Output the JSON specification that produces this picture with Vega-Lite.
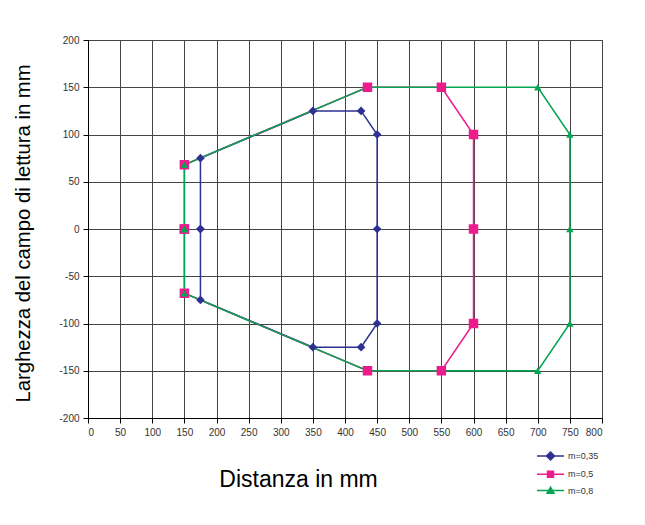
{
  "$schema": "https://vega.github.io/schema/vega-lite/v6.json",
  "width": 514,
  "height": 378,
  "autosize": {"type": "none"},
  "padding": {"left": 88, "top": 40, "right": 43, "bottom": 107},
  "background": "white",
  "config": {
    "font": "Liberation Sans",
    "view": {"stroke": "#444", "strokeWidth": 1},
    "axis": {
      "labelOverlap": false, "labelExpr": "'' + datum.value",
      "grid": true, "gridColor": "#444", "gridOpacity": 1,
      "domainColor": "#000", "tickColor": "#000", "tickSize": 5,
      "labelFontSize": 10, "labelColor": "#333", "labelPadding": 4,
      "titleFontWeight": "normal", "titleColor": "#000",
      "titleAlign": "center", "titleBaseline": "middle"
    },
    "axisX": {"titleFontSize": 23, "titleX": 210, "titleY": 61},
    "axisY": {"titleFontSize": 20.3, "titleX": -65, "titleY": 193, "titleAngle": -90}
  },
  "data": {
    "values": [
      {"s": "m=0,35", "i": 0, "x": 175, "y": 0},
      {"s": "m=0,35", "i": 1, "x": 175, "y": 75},
      {"s": "m=0,35", "i": 2, "x": 350, "y": 125},
      {"s": "m=0,35", "i": 3, "x": 425, "y": 125},
      {"s": "m=0,35", "i": 4, "x": 450, "y": 100},
      {"s": "m=0,35", "i": 5, "x": 450, "y": 0},
      {"s": "m=0,35", "i": 6, "x": 450, "y": -100},
      {"s": "m=0,35", "i": 7, "x": 425, "y": -125},
      {"s": "m=0,35", "i": 8, "x": 350, "y": -125},
      {"s": "m=0,35", "i": 9, "x": 175, "y": -75},
      {"s": "m=0,35", "i": 10, "x": 175, "y": 0},
      {"s": "m=0,5", "i": 0, "x": 150, "y": 0},
      {"s": "m=0,5", "i": 1, "x": 150, "y": 68},
      {"s": "m=0,5", "i": 2, "x": 435, "y": 150},
      {"s": "m=0,5", "i": 3, "x": 550, "y": 150},
      {"s": "m=0,5", "i": 4, "x": 600, "y": 100},
      {"s": "m=0,5", "i": 5, "x": 600, "y": 0},
      {"s": "m=0,5", "i": 6, "x": 600, "y": -100},
      {"s": "m=0,5", "i": 7, "x": 550, "y": -150},
      {"s": "m=0,5", "i": 8, "x": 435, "y": -150},
      {"s": "m=0,5", "i": 9, "x": 150, "y": -68},
      {"s": "m=0,5", "i": 10, "x": 150, "y": 0},
      {"s": "m=0,8", "i": 0, "x": 150, "y": 0},
      {"s": "m=0,8", "i": 1, "x": 150, "y": 68},
      {"s": "m=0,8", "i": 2, "x": 435, "y": 150},
      {"s": "m=0,8", "i": 3, "x": 700, "y": 150},
      {"s": "m=0,8", "i": 4, "x": 750, "y": 100},
      {"s": "m=0,8", "i": 5, "x": 750, "y": 0},
      {"s": "m=0,8", "i": 6, "x": 750, "y": -100},
      {"s": "m=0,8", "i": 7, "x": 700, "y": -150},
      {"s": "m=0,8", "i": 8, "x": 435, "y": -150},
      {"s": "m=0,8", "i": 9, "x": 150, "y": -68},
      {"s": "m=0,8", "i": 10, "x": 150, "y": 0}
    ]
  },
  "layer": [
    {
      "mark": {"type": "line", "strokeWidth": 1.5, "clip": false},
      "encoding": {
        "x": {
          "field": "x", "type": "quantitative",
          "scale": {"domain": [0, 800], "nice": false, "zero": false},
          "axis": {"values": [0, 50, 100, 150, 200, 250, 300, 350, 400, 450, 500, 550, 600, 650, 700, 750, 800], "title": "Distanza in mm"}
        },
        "y": {
          "field": "y", "type": "quantitative",
          "scale": {"domain": [-200, 200], "nice": false, "zero": false},
          "axis": {"values": [-200, -150, -100, -50, 0, 50, 100, 150, 200], "title": "Larghezza del campo di lettura in mm"}
        },
        "color": {
          "field": "s", "type": "nominal",
          "scale": {"domain": ["m=0,35", "m=0,5", "m=0,8"], "range": ["#2E3192", "#EC1C8C", "#00A651"]},
          "legend": {
            "title": null, "orient": "none", "legendX": 452.5, "legendY": 406,
            "symbolSize": 324, "symbolStrokeWidth": 1.5,
            "labelFontSize": 9, "labelColor": "#333", "labelOffset": 7.5,
            "rowPadding": 0.3, "padding": 0,
            "encode": {
              "symbols": {
                "update": {
                  "shape": {"signal": "datum.value === 'm=0,35' ? 'M-1.5,0H1.5M0,-0.45L0.45,0L0,0.45L-0.45,0Z' : datum.value === 'm=0,5' ? 'M-1.5,0H1.5M-0.33,-0.33H0.33V0.33H-0.33Z' : 'M-1.5,0H1.5M0,-0.38L0.38,0.3H-0.38Z'"},
                  "size": {"value": 324},
                  "fill": {"signal": "scale('color', datum.value)"},
                  "stroke": {"signal": "scale('color', datum.value)"},
                  "opacity": {"value": 1},
                  "fillOpacity": {"value": 1}
                }
              }
            }
          }
        },
        "order": {"field": "i", "type": "quantitative"}
      }
    },
    {
      "transform": [{"filter": "datum.s == 'm=0,35'"}],
      "mark": {"type": "point", "filled": true, "opacity": 1, "clip": false, "shape": "diamond", "size": 75},
      "encoding": {
        "x": {"field": "x", "type": "quantitative", "axis": {"values": [0, 50, 100, 150, 200, 250, 300, 350, 400, 450, 500, 550, 600, 650, 700, 750, 800], "title": "Distanza in mm"}},
        "y": {"field": "y", "type": "quantitative", "axis": {"values": [-200, -150, -100, -50, 0, 50, 100, 150, 200], "title": "Larghezza del campo di lettura in mm"}},
        "color": {"field": "s", "type": "nominal"}
      }
    },
    {
      "transform": [{"filter": "datum.s == 'm=0,5'"}],
      "mark": {"type": "point", "filled": true, "opacity": 1, "clip": false, "shape": "square", "size": 90},
      "encoding": {
        "x": {"field": "x", "type": "quantitative", "axis": {"values": [0, 50, 100, 150, 200, 250, 300, 350, 400, 450, 500, 550, 600, 650, 700, 750, 800], "title": "Distanza in mm"}},
        "y": {"field": "y", "type": "quantitative", "axis": {"values": [-200, -150, -100, -50, 0, 50, 100, 150, 200], "title": "Larghezza del campo di lettura in mm"}},
        "color": {"field": "s", "type": "nominal"}
      }
    },
    {
      "transform": [{"filter": "datum.s == 'm=0,8' && datum.x != 435"}],
      "mark": {"type": "point", "filled": true, "opacity": 1, "clip": false, "shape": "triangle-up", "size": 55},
      "encoding": {
        "x": {"field": "x", "type": "quantitative", "axis": {"values": [0, 50, 100, 150, 200, 250, 300, 350, 400, 450, 500, 550, 600, 650, 700, 750, 800], "title": "Distanza in mm"}},
        "y": {"field": "y", "type": "quantitative", "axis": {"values": [-200, -150, -100, -50, 0, 50, 100, 150, 200], "title": "Larghezza del campo di lettura in mm"}},
        "color": {"field": "s", "type": "nominal"}
      }
    }
  ]
}
